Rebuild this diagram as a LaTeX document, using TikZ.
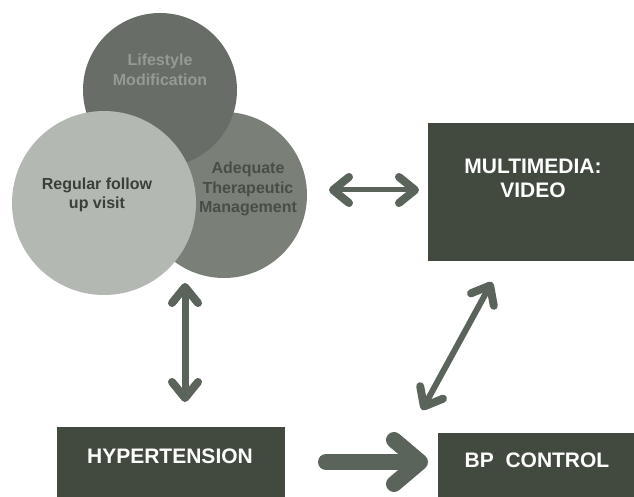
\documentclass[tikz,border=0pt]{standalone}
\usepackage{fontspec}
\setmainfont{Liberation Sans}
\usepackage{xcolor}
\usetikzlibrary{arrows.meta, positioning}

\definecolor{boxgreen}{RGB}{66,74,64}
\definecolor{arrowgreen}{RGB}{90,100,90}
\definecolor{lifegray}{RGB}{104,110,103}
\definecolor{adeqgray}{RGB}{122,128,120}
\definecolor{visitgray}{RGB}{180,184,178}
\definecolor{lifetextgray}{RGB}{150,153,148}
\definecolor{visittextgray}{RGB}{58,64,56}
\definecolor{adeqtextgray}{RGB}{72,78,70}

\tikzset{
  bubble/.style={circle, draw=none, inner sep=0pt},
  bubbletext/.style={font=\bfseries\fontsize{16}{19.5}\selectfont, align=center, inner sep=0pt},
  darkbox/.style={rectangle, fill=boxgreen, draw=none, inner sep=0pt},
  boxtext/.style={font=\bfseries\fontsize{21}{24}\selectfont, text=white, align=center, inner sep=0pt},
  twoway/.style={draw=arrowgreen, line width=#1,
    {Straight Barb[length=16pt, width=26pt, line width=8pt, round]}-{Straight Barb[length=16pt, width=26pt, line width=8pt, round]}},
  bigarrow/.style={draw=arrowgreen, line width=16pt, line cap=round,
    -{Straight Barb[length=26pt, width=44pt, line width=16pt, round]}},
}

\begin{document}
\begin{tikzpicture}[x=1pt, y=-1pt]
\useasboundingbox[fill=white] (0,0) rectangle (634,497);

% three circles
\node (adeq) [bubble, fill=adeqgray, minimum size=166pt] at (224,195) {};
\node (life) [bubble, fill=lifegray, minimum size=154pt] at (160,90) {};
\node (visit) [bubble, fill=visitgray, minimum size=184pt] at (104,203) {};
\node (lifetext) [bubbletext, text=lifetextgray] at (160,70) {Lifestyle\\Modification};
\node (visittext) [bubbletext, text=visittextgray] at (97,195) {Regular follow\\up visit};
\node (adeqtext) [bubbletext, text=adeqtextgray] at (248,189) {Adequate\\Therapeutic\\Management};

% boxes
\node (media) [darkbox, minimum width=206pt, minimum height=138pt] at (531,192) {};
\node (mediatext) [boxtext] at (533,178) {MULTIMEDIA:\\VIDEO};
\node (hyper) [darkbox, minimum width=228pt, minimum height=70pt] at (171,462) {};
\node (hypertext) [boxtext] at (170,456) {HYPERTENSION};
\node (bp) [darkbox, minimum width=196pt, minimum height=64pt] at (536,465) {};
\node (bptext) [boxtext] at (537,460) {BP\ \ CONTROL};

% arrow ends
\coordinate (medialeft) at (329,190);
\coordinate (mediaright) at (419,190);
\coordinate (visitlow) at (185,283);
\coordinate (hypertop) at (185,402);
\coordinate (mediabottom) at (492,282);
\coordinate (bptop) at (422,410);
\coordinate (hyperright) at (326,462);
\coordinate (bpleft) at (428,462);

\draw[twoway=5pt] (medialeft) -- (mediaright);
\draw[twoway=7pt] (visitlow) -- (hypertop);
\draw[twoway=6pt] (mediabottom) -- (bptop);
\draw[bigarrow] (hyperright) -- (bpleft);
\end{tikzpicture}
\end{document}
